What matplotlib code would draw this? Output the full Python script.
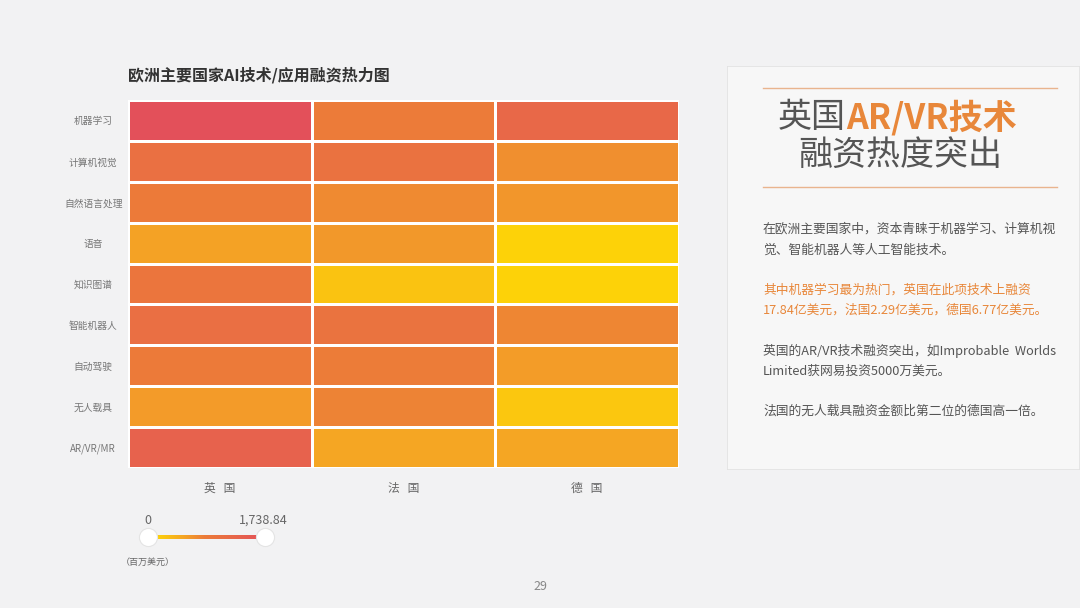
import numpy as np
import matplotlib
matplotlib.use("Agg")
import matplotlib.pyplot as plt
from matplotlib.colors import LinearSegmentedColormap, PowerNorm

plt.rcParams['font.family'] = ['Noto Sans CJK SC', 'DejaVu Sans']

# data (百万美元)
techs = ['机器学习', '计算机视觉', '自然语言处理', '语音', '知识图谱',
         '智能机器人', '自动驾驶', '无人载具', 'AR/VR/MR']
countries = ['英   国', '法   国', '德   国']
uk = [1738.84, 470, 240, 67, 332, 487, 240, 87, 918]
fr = [229, 404, 146, 94, 8, 390, 214, 178, 56]
de = [677, 127, 101, 1, 1, 167, 80, 5, 56]
vmin, vmax = 0, 1738.84

values = np.array([uk, fr, de]).T

cmap = LinearSegmentedColormap.from_list('heat', [
    (0.0, '#FFE000'), (0.3, '#F5A623'), (0.48, '#EC7C38'),
    (0.75, '#E8664A'), (1.0, '#E3505A')])
norm = PowerNorm(gamma=0.35, vmin=vmin, vmax=vmax)

W, H = 1080, 608
fig = plt.figure(figsize=(W / 100, H / 100), dpi=100)
fig.patch.set_facecolor('#F2F2F3')

def px(x0, y0, x1, y1):
    return [x0 / W, 1 - y1 / H, (x1 - x0) / W, (y1 - y0) / H]

# heatmap
ax = fig.add_axes(px(128, 100, 679, 468))
ax.pcolormesh(values, cmap=cmap, norm=norm, edgecolors='white', linewidth=1.8)
ax.set_xlim(0, 3)
ax.set_ylim(len(techs), 0)
ax.set_xticks(np.arange(3) + 0.5)
ax.set_xticklabels(countries, fontsize=8.5, color='#666666')
ax.set_yticks(np.arange(len(techs)) + 0.5)
ax.set_yticklabels(techs, fontsize=7, color='#777777', ha='center')
ax.tick_params(axis='x', length=0, pad=10)
ax.tick_params(axis='y', length=0, pad=25)
for s in ax.spines.values():
    s.set_visible(False)

fig.text(128 / W, 1 - 75 / H, '欧洲主要国家AI技术/应用融资热力图', fontsize=11.5,
         fontweight='bold', color='#333333', va='center')

# slider legend
sax = fig.add_axes(px(148, 533, 265, 541))
grad = np.linspace(0, 1, 256).reshape(1, -1)
sax.imshow(grad, cmap=cmap, aspect='auto', extent=(vmin, vmax, 0, 1))
sax.set_xlim(vmin, vmax)
sax.set_ylim(-0.5, 1.5)
sax.axis('off')
sax.scatter([vmin, vmax], [0.5, 0.5], s=170, color='white', edgecolor='#E4E4E4',
            linewidth=0.8, zorder=5, clip_on=False)
fig.text(148 / W, 1 - 520 / H, '0', fontsize=9, color='#666666', ha='center', va='center')
fig.text(263 / W, 1 - 520 / H, '1,738.84', fontsize=9, color='#666666', ha='center', va='center')
fig.text(148 / W, 1 - 562 / H, '（百万美元）', fontsize=6.5, color='#666666', ha='center', va='center')

fig.text(540 / W, 1 - 587 / H, '29', fontsize=9, color='#888888', ha='center', va='center')

# right panel
pan = fig.add_axes(px(727, 66, 1080, 470))
pan.set_xlim(727, 1080)
pan.set_ylim(470, 66)
pan.axis('off')
pan.add_patch(plt.Rectangle((727, 66), 353, 404, facecolor='#F7F7F7',
                            edgecolor='#E2E2E2', linewidth=1.2))
pan.plot([763, 1057], [88, 88], color='#E9B48E', lw=1)
pan.plot([763, 1057], [187, 187], color='#E9B48E', lw=1)

t1 = pan.text(778, 118, '英国', fontsize=24.5, color='#555555', va='center')
pan.annotate('AR/VR技术', xy=(1, 0), xycoords=t1, va='bottom', fontsize=24.5,
             color='#E8873A', fontweight='bold')
pan.text(900, 155, '融资热度突出', fontsize=24.5, color='#555555', va='center', ha='center')

lines = [
    (229, '在欧洲主要国家中，资本青睐于机器学习、计算机视', '#555555'),
    (250, '觉、智能机器人等人工智能技术。', '#555555'),
    (290, '其中机器学习最为热门，英国在此项技术上融资', '#E8873A'),
    (310, '17.84亿美元，法国2.29亿美元，德国6.77亿美元。', '#E8873A'),
    (351, '英国的AR/VR技术融资突出，如Improbable  Worlds', '#555555'),
    (371, 'Limited获网易投资5000万美元。', '#555555'),
    (411, '法国的无人载具融资金额比第二位的德国高一倍。', '#555555'),
]
for y, s, c in lines:
    pan.text(763, y, s, fontsize=9.2, color=c, va='center')

fig.savefig('out.png', dpi=100, facecolor=fig.get_facecolor())
